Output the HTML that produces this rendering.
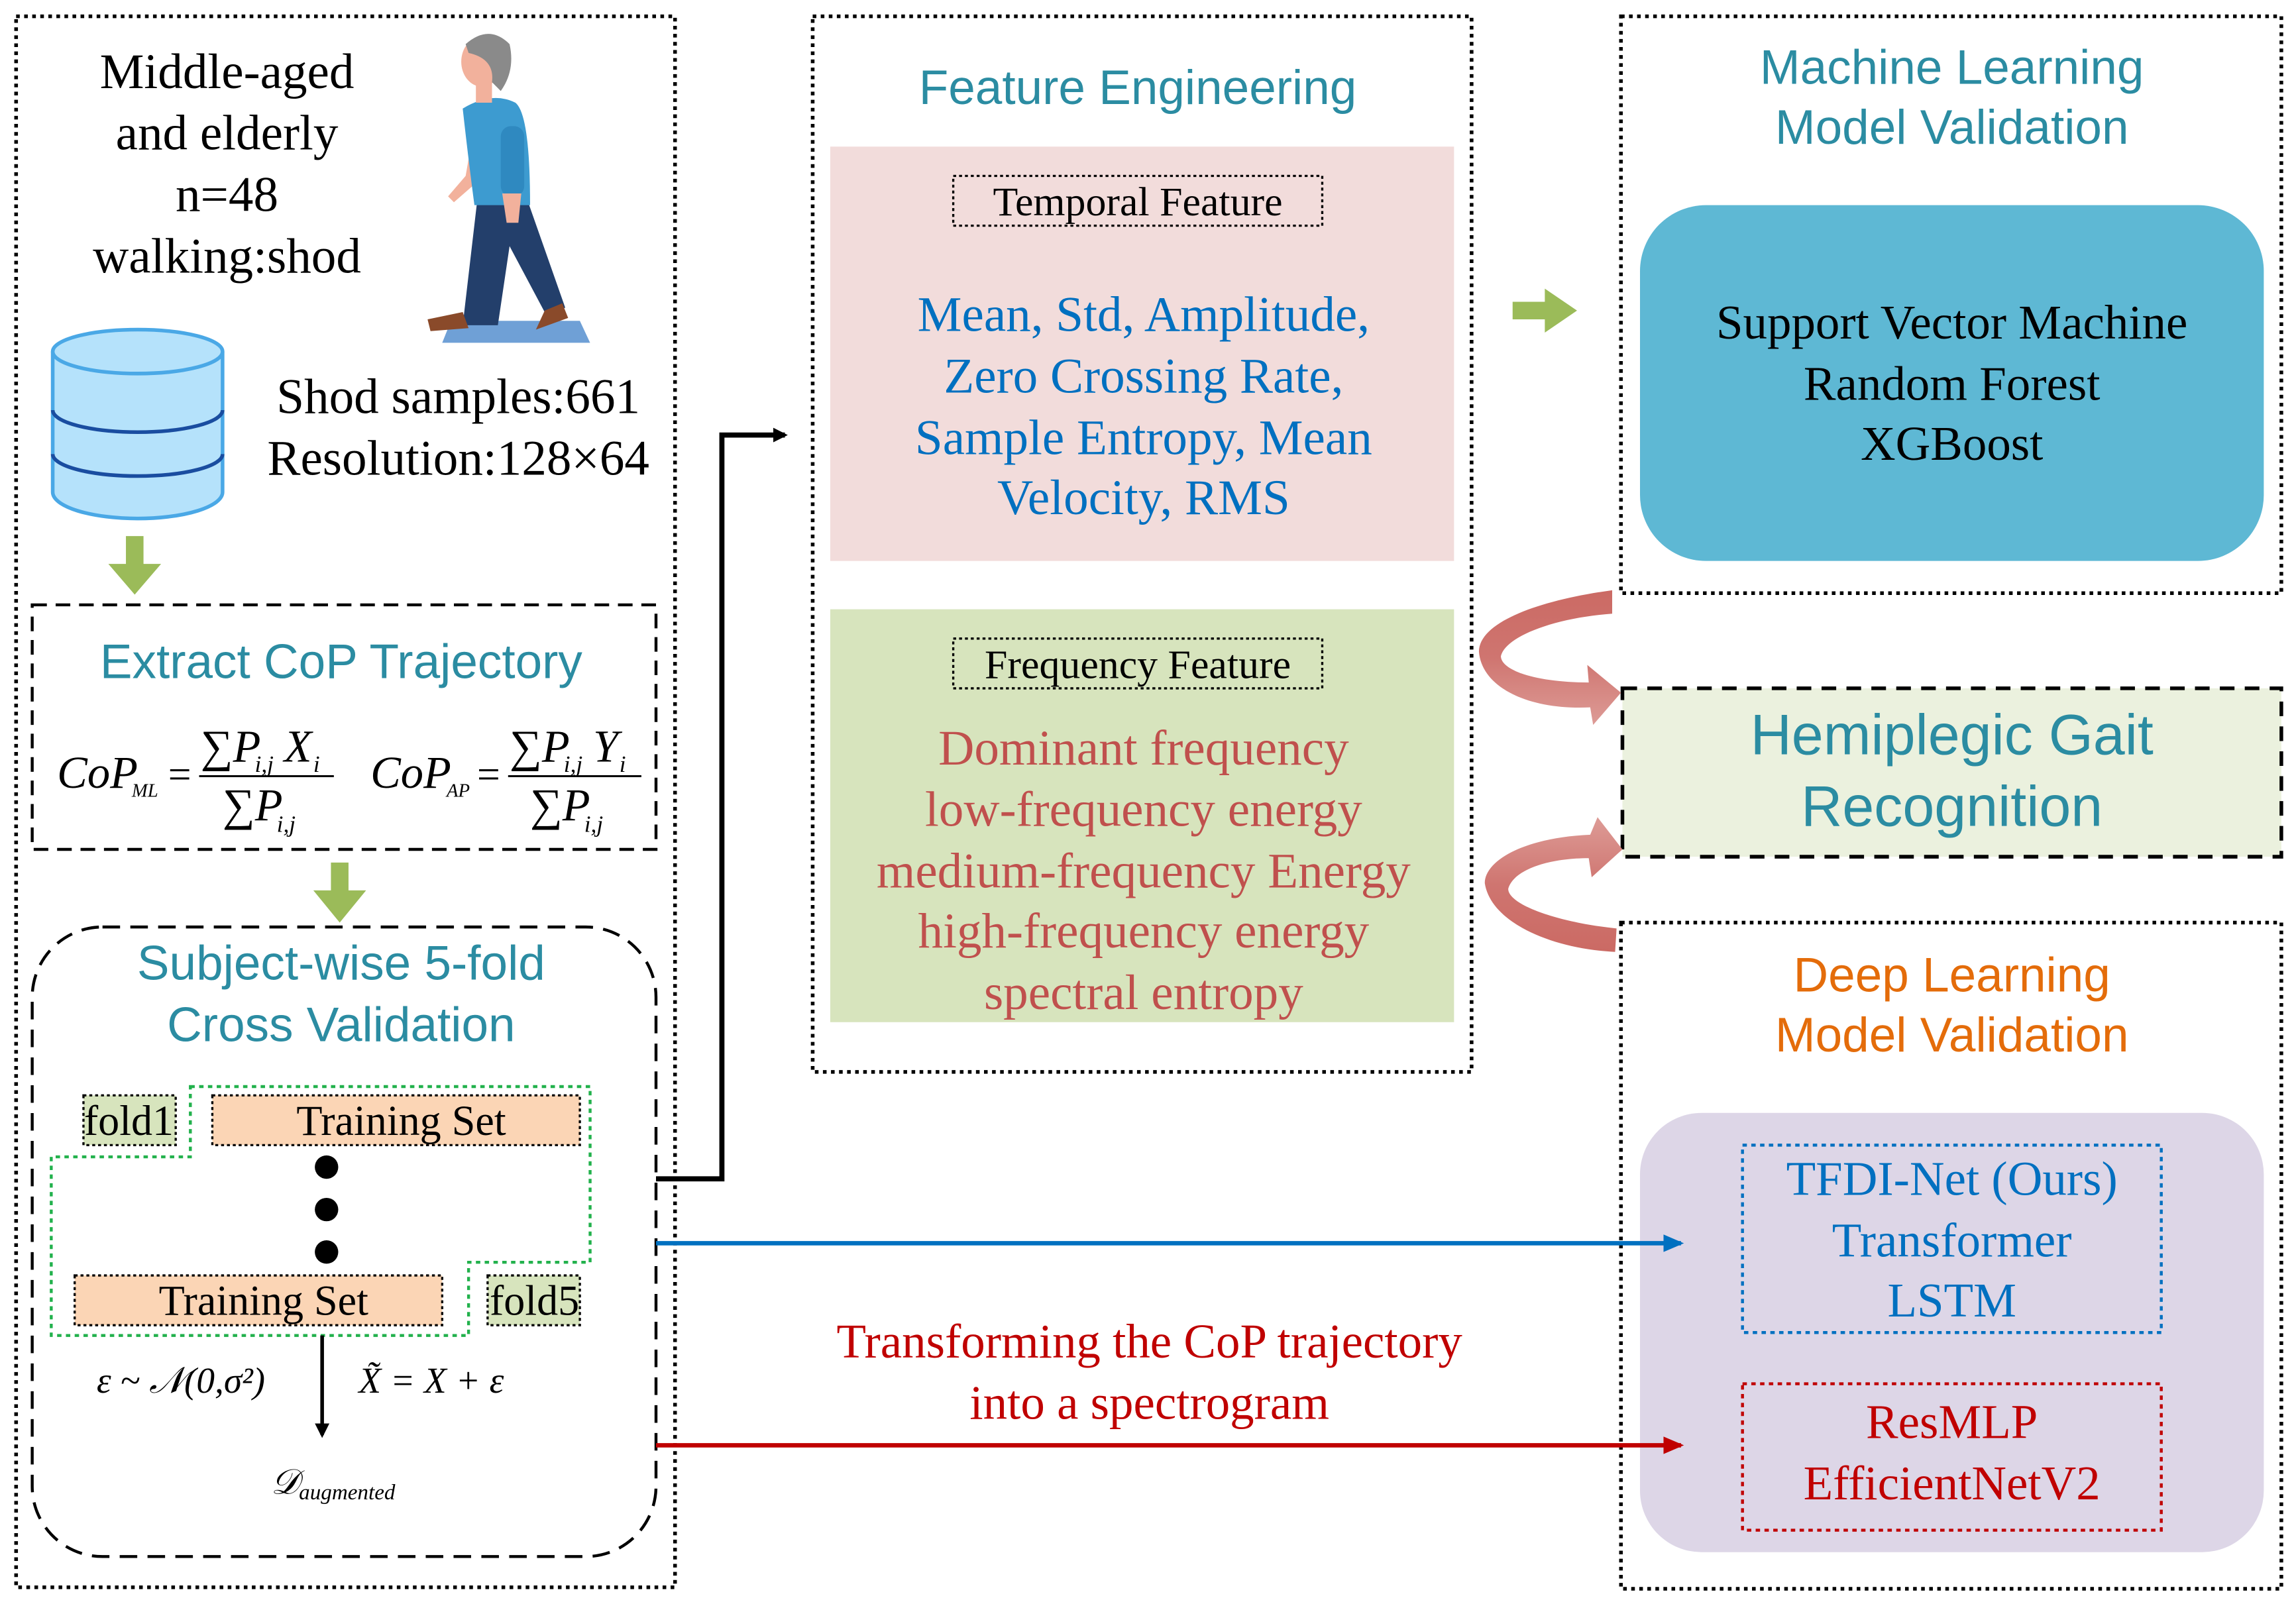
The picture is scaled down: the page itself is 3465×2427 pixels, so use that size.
<!DOCTYPE html>
<html><head><meta charset="utf-8"><style>html,body{margin:0;padding:0;background:#fff}svg{display:block}</style></head>
<body>
<svg width="3465" height="2427" viewBox="0 0 1568 1098" xmlns="http://www.w3.org/2000/svg">
<defs>
<linearGradient id="ga" x1="0" y1="0" x2="0" y2="1"><stop offset="0" stop-color="#cb6a64"/><stop offset="0.5" stop-color="#cf7570"/><stop offset="1" stop-color="#dd9b96"/></linearGradient>
<linearGradient id="gb" x1="0" y1="1" x2="0" y2="0"><stop offset="0" stop-color="#cb6a64"/><stop offset="0.5" stop-color="#cf7570"/><stop offset="1" stop-color="#dd9b96"/></linearGradient>
<marker id="ak" markerWidth="10" markerHeight="10" refX="8" refY="5" orient="auto" markerUnits="userSpaceOnUse"><path d="M0,0 L10,5 L0,10 Z" fill="#000"/></marker>
<marker id="ab" markerWidth="14" markerHeight="12" refX="12" refY="6" orient="auto" markerUnits="userSpaceOnUse"><path d="M0,0 L14,6 L0,12 Z" fill="#0070c0"/></marker>
<marker id="ar" markerWidth="14" markerHeight="12" refX="12" refY="6" orient="auto" markerUnits="userSpaceOnUse"><path d="M0,0 L14,6 L0,12 Z" fill="#c00000"/></marker>
</defs>
<g font-family="Liberation Serif, serif">
<!-- LEFT PANEL -->
<rect x="11" y="11" width="450" height="1073" fill="none" stroke="#000" stroke-width="2.5" stroke-dasharray="2.5,3"/>
<g font-size="34" text-anchor="middle" fill="#000">
<text x="155" y="60">Middle-aged</text>
<text x="155" y="102">and elderly</text>
<text x="155" y="144">n=48</text>
<text x="155" y="186">walking:shod</text>
<text x="313" y="282">Shod samples:661</text>
<text x="313" y="324">Resolution:128×64</text>
</g>
<!-- person -->
<polygon points="302,234 403,234 396,219 308,219" fill="#6fa0d6"/>
<path d="M324,86 L318,120 L306,134 L310,138 L326,124 L334,92 Z" fill="#f2b19c"/>
<path d="M326,136 L360,136 L386,210 L373,215 L348,168 L340,222 L316,222 Z" fill="#233f6b"/>
<path d="M316,74 Q336,62 352,70 Q362,78 362,140 L324,140 Q320,110 316,74 Z" fill="#3d9bd0"/>
<rect x="342" y="86" width="16" height="48" rx="7" fill="#2f89c0"/>
<path d="M343,132 L356,132 L354,152 L346,152 Z" fill="#f2b19c"/>
<rect x="325" y="52" width="11" height="18" fill="#f2b19c"/>
<ellipse cx="329" cy="42" rx="14" ry="17" fill="#f2b19c"/>
<path d="M318,30 Q334,16 348,30 Q352,48 342,62 L336,56 Q338,40 320,36 Z" fill="#8a8a8a"/>
<path d="M292,218 L316,213 L320,224 L294,226 Z" fill="#8a4a2a"/>
<path d="M372,212 L384,207 L388,217 L366,225 Z" fill="#8a4a2a"/>
<!-- database -->
<path d="M36,240 L36,336 A58,18 0 0 0 152,336 L152,240" fill="#b5e2fb" stroke="#4aa8e6" stroke-width="2.5"/>
<ellipse cx="94" cy="240" rx="58" ry="15" fill="#b5e2fb" stroke="#4aa8e6" stroke-width="2.5"/>
<path d="M36,280 A58,15 0 0 0 152,280 M36,310 A58,15 0 0 0 152,310" fill="none" stroke="#1a4da0" stroke-width="2.5"/>
<!-- green arrows -->
<polygon points="86,366 98,366 98,385 110,385 92,406 74,385 86,385" fill="#9bbb59"/>
<polygon points="226,589 238,589 238,608 250,608 232,630 214,608 226,608" fill="#9bbb59"/>
<polygon points="1033,206 1055,206 1055,197 1077,212 1055,227 1055,218 1033,218" fill="#9bbb59"/>
<!-- extract CoP -->
<rect x="22" y="413" width="426" height="167" fill="none" stroke="#000" stroke-width="2" stroke-dasharray="10,6"/>
<text x="233" y="463" font-family="Liberation Sans, sans-serif" font-size="33" fill="#2b8ca2" text-anchor="middle">Extract CoP Trajectory</text>
<g font-style="italic" fill="#000">
<text x="39" y="538" font-size="31">CoP</text><text x="90" y="544" font-size="13">ML</text>
<text x="113" y="538" font-size="28">=</text>
<text x="137" y="520" font-size="31">∑P</text><text x="174" y="527" font-size="16">i,j</text><text x="194" y="520" font-size="31">X</text><text x="214" y="527" font-size="16">i</text>
<line x1="136" y1="530" x2="228" y2="530" stroke="#000" stroke-width="1.4"/>
<text x="152" y="560" font-size="31">∑P</text><text x="189" y="568" font-size="16">i,j</text>
<text x="253" y="538" font-size="31">CoP</text><text x="305" y="544" font-size="13">AP</text>
<text x="324" y="538" font-size="28">=</text>
<text x="348" y="520" font-size="31">∑P</text><text x="385" y="527" font-size="16">i,j</text><text x="405" y="520" font-size="31">Y</text><text x="423" y="527" font-size="16">i</text>
<line x1="347" y1="530" x2="438" y2="530" stroke="#000" stroke-width="1.4"/>
<text x="362" y="560" font-size="31">∑P</text><text x="399" y="568" font-size="16">i,j</text>
</g>
<!-- subject-wise -->
<rect x="22" y="633" width="426" height="430" rx="48" fill="none" stroke="#000" stroke-width="2" stroke-dasharray="12,7"/>
<g font-family="Liberation Sans, sans-serif" font-size="33" fill="#2b8ca2" text-anchor="middle">
<text x="233" y="669">Subject-wise 5-fold</text>
<text x="233" y="711">Cross Validation</text>
</g>
<polygon points="130,742 403,742 403,862 320,862 320,912 35,912 35,790 130,790" fill="none" stroke="#22b14c" stroke-width="2" stroke-dasharray="3,3"/>
<rect x="57" y="748" width="63" height="34" fill="#d7e4bd" stroke="#000" stroke-width="1.5" stroke-dasharray="2,2"/>
<rect x="145" y="748" width="251" height="34" fill="#fbd5b5" stroke="#000" stroke-width="1.5" stroke-dasharray="2,2"/>
<rect x="51" y="871" width="251" height="34" fill="#fbd5b5" stroke="#000" stroke-width="1.5" stroke-dasharray="2,2"/>
<rect x="333" y="871" width="63" height="34" fill="#d7e4bd" stroke="#000" stroke-width="1.5" stroke-dasharray="2,2"/>
<g font-size="29" text-anchor="middle" fill="#000">
<text x="88" y="775">fold1</text><text x="274" y="775">Training Set</text>
<text x="180" y="898">Training Set</text><text x="365" y="898">fold5</text>
</g>
<circle cx="223" cy="797" r="8"/><circle cx="223" cy="826" r="8"/><circle cx="223" cy="855" r="8"/>
<line x1="220" y1="912" x2="220" y2="980" stroke="#000" stroke-width="2.5" marker-end="url(#ak)"/>
<text x="66" y="951" font-size="25" font-style="italic">ε ~ 𝒩(0,σ²)</text>
<text x="245" y="951" font-size="25" font-style="italic">X̃ = X + ε</text>
<text x="185" y="1020" font-size="24" font-style="italic">𝒟<tspan font-size="15" dy="4">augmented</tspan></text>
<!-- MIDDLE -->
<rect x="555" y="11" width="450" height="721" fill="none" stroke="#000" stroke-width="2.5" stroke-dasharray="2.5,3"/>
<text x="777" y="71" font-family="Liberation Sans, sans-serif" font-size="33" fill="#2b8ca2" text-anchor="middle">Feature Engineering</text>
<rect x="567" y="100" width="426" height="283" fill="#f2dcdb"/>
<rect x="651" y="120" width="252" height="34" fill="none" stroke="#000" stroke-width="1.5" stroke-dasharray="2,2"/>
<text x="777" y="147" font-size="28" text-anchor="middle">Temporal Feature</text>
<g font-size="34" fill="#0070c0" text-anchor="middle">
<text x="781" y="226">Mean, Std, Amplitude,</text>
<text x="781" y="268">Zero Crossing Rate,</text>
<text x="781" y="310">Sample Entropy, Mean</text>
<text x="781" y="351">Velocity, RMS</text>
</g>
<rect x="567" y="416" width="426" height="282" fill="#d7e4bd"/>
<rect x="651" y="436" width="252" height="34" fill="none" stroke="#000" stroke-width="1.5" stroke-dasharray="2,2"/>
<text x="777" y="463" font-size="28" text-anchor="middle">Frequency Feature</text>
<g font-size="34" fill="#c0504d" text-anchor="middle">
<text x="781" y="522">Dominant frequency</text>
<text x="781" y="564">low-frequency energy</text>
<text x="781" y="606">medium-frequency Energy</text>
<text x="781" y="647">high-frequency energy</text>
<text x="781" y="689">spectral entropy</text>
</g>
<!-- RIGHT TOP -->
<rect x="1107" y="11" width="451" height="394" fill="none" stroke="#000" stroke-width="2.5" stroke-dasharray="2.5,3"/>
<g font-family="Liberation Sans, sans-serif" font-size="33" fill="#2b8ca2" text-anchor="middle">
<text x="1333" y="57">Machine Learning</text>
<text x="1333" y="98">Model Validation</text>
</g>
<rect x="1120" y="140" width="426" height="243" rx="45" fill="#5eb8d4"/>
<g font-size="33" text-anchor="middle" fill="#000">
<text x="1333" y="231">Support Vector Machine</text>
<text x="1333" y="273">Random Forest</text>
<text x="1333" y="314">XGBoost</text>
</g>
<!-- hemiplegic -->
<rect x="1108" y="470" width="450" height="115" fill="#ebf1de" stroke="#000" stroke-width="2.5" stroke-dasharray="10,7"/>
<g font-family="Liberation Sans, sans-serif" font-size="39" fill="#2b8ca2" text-anchor="middle">
<text x="1333" y="515">Hemiplegic Gait</text>
<text x="1333" y="564">Recognition</text>
</g>
<path d="M1101,403 C1050,410 1010,425 1010,445 C1012,470 1045,485 1086,483 L1088,495 L1107,473 L1084,454 L1085,466 C1050,466 1025,458 1025,448 C1028,435 1060,422 1101,419 Z" fill="url(#ga)"/>
<path d="M1108,580 L1091,558 L1086,570 C1040,572 1014,588 1014,603 C1018,630 1060,648 1103,650 L1104,634 C1065,630 1030,618 1030,607 C1033,595 1055,586 1085,586 L1087,599 Z" fill="url(#gb)"/>
<!-- RIGHT BOTTOM -->
<rect x="1107" y="630" width="451" height="455" fill="none" stroke="#000" stroke-width="2.5" stroke-dasharray="2.5,3"/>
<g font-family="Liberation Sans, sans-serif" font-size="33" fill="#e46c0a" text-anchor="middle">
<text x="1333" y="677">Deep Learning</text>
<text x="1333" y="718">Model Validation</text>
</g>
<rect x="1120" y="760" width="426" height="300" rx="42" fill="#ddd6e7"/>
<rect x="1190" y="782" width="286" height="128" fill="none" stroke="#0070c0" stroke-width="2" stroke-dasharray="3,3"/>
<g font-size="33" fill="#0070c0" text-anchor="middle">
<text x="1333" y="816">TFDI-Net (Ours)</text>
<text x="1333" y="858">Transformer</text>
<text x="1333" y="899">LSTM</text>
</g>
<rect x="1190" y="945" width="286" height="100" fill="none" stroke="#c00000" stroke-width="2" stroke-dasharray="3,3"/>
<g font-size="33" fill="#c00000" text-anchor="middle">
<text x="1333" y="982">ResMLP</text>
<text x="1333" y="1024">EfficientNetV2</text>
</g>
<!-- connectors -->
<polyline points="448,805 493,805 493,297 536,297" fill="none" stroke="#000" stroke-width="3.5" marker-end="url(#ak)"/>
<line x1="448" y1="849" x2="1148" y2="849" stroke="#0070c0" stroke-width="3" marker-end="url(#ab)"/>
<line x1="448" y1="987" x2="1148" y2="987" stroke="#c00000" stroke-width="3" marker-end="url(#ar)"/>
<g font-size="33" fill="#c00000" text-anchor="middle">
<text x="785" y="927">Transforming the CoP trajectory</text>
<text x="785" y="969">into a spectrogram</text>
</g>
</g>
</svg>
</body></html>
